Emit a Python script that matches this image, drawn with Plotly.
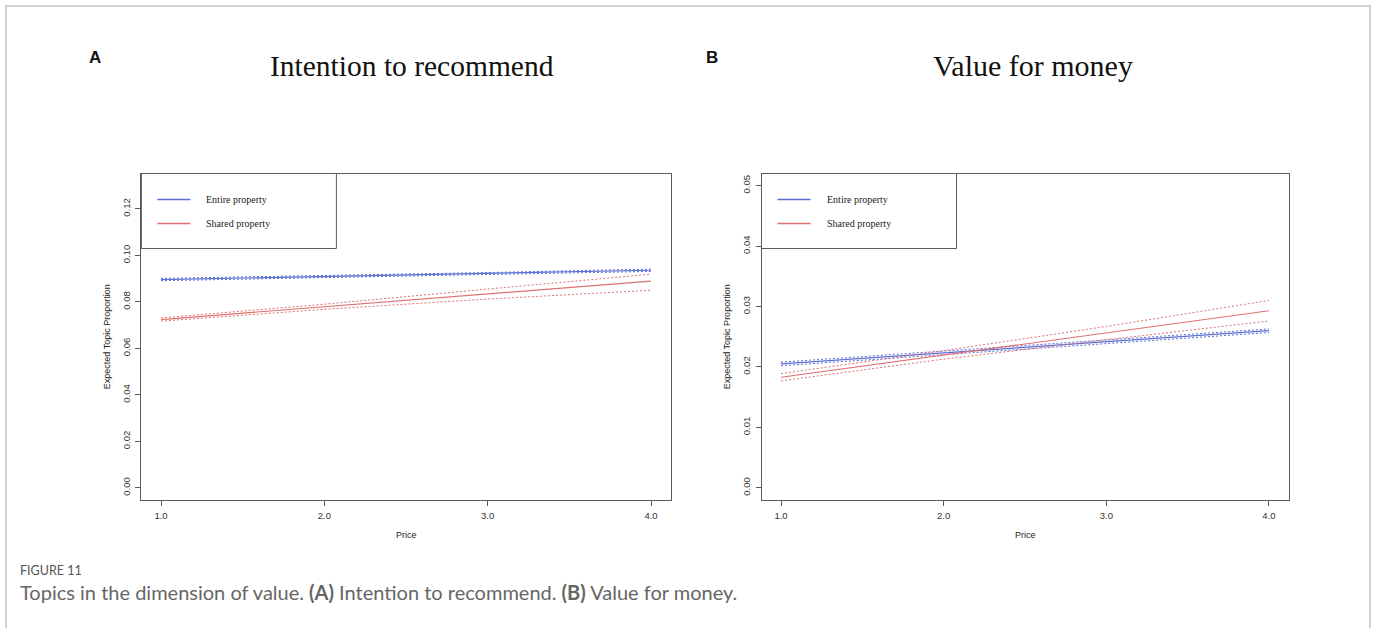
import plotly.graph_objects as go

W, H = 1377, 628

# Price levels on the x axis
price = [1.0, 2.0, 3.0, 4.0]

# Panel A: Intention to recommend (expected topic proportion, with 95% CI)
a_entire_mean = [0.0896, 0.0909, 0.0922, 0.0936]
a_entire_lo = [0.0891, 0.0905, 0.0918, 0.0931]
a_entire_hi = [0.0901, 0.0913, 0.0926, 0.0941]
a_shared_mean = [0.0724, 0.0779, 0.0834, 0.0889]
a_shared_lo = [0.0717, 0.0768, 0.0812, 0.0850]
a_shared_hi = [0.0731, 0.0790, 0.0855, 0.0919]

# Panel B: Value for money
b_entire_mean = [0.0205, 0.0223, 0.0241, 0.0260]
b_entire_lo = [0.0202, 0.0220, 0.0238, 0.0257]
b_entire_hi = [0.0208, 0.0226, 0.0244, 0.0263]
b_shared_mean = [0.0183, 0.0220, 0.0256, 0.0293]
b_shared_lo = [0.0177, 0.0213, 0.0245, 0.0276]
b_shared_hi = [0.0189, 0.0227, 0.0267, 0.0310]

x_ticks = [1.0, 2.0, 3.0, 4.0]
x_ticktext = ["1.0", "2.0", "3.0", "4.0"]
a_y_ticks = [0.00, 0.02, 0.04, 0.06, 0.08, 0.10, 0.12]
a_y_ticktext = ["0.00", "0.02", "0.04", "0.06", "0.08", "0.10", "0.12"]
b_y_ticks = [0.00, 0.01, 0.02, 0.03, 0.04, 0.05]
b_y_ticktext = ["0.00", "0.01", "0.02", "0.03", "0.04", "0.05"]

series_names = ["Entire property", "Shared property"]
BLUE = "rgb(92,111,210)"
RED = "rgb(224,112,112)"

SERIF = "Liberation Serif, Times New Roman, serif"
SANS = "Liberation Sans, Arial, sans-serif"
CAPTION_FONT = "Lato, Open Sans, sans-serif"


def px_x(x):
    return x / W


def px_y(y):
    return 1 - y / H


fig = go.Figure()


def add_panel(xa, ya, entire, shared):
    for (mean, lo, hi), col in ((entire, BLUE), (shared, RED)):
        for band in (lo, hi):
            fig.add_trace(go.Scatter(
                x=price, y=band, mode="lines", xaxis=xa, yaxis=ya,
                line=dict(color=col, width=1, dash="2px,2px"),
                showlegend=False, hoverinfo="skip"))
        fig.add_trace(go.Scatter(
            x=price, y=mean, mode="lines", xaxis=xa, yaxis=ya,
            line=dict(color=col, width=1.2), showlegend=False))


add_panel("x", "y", (a_entire_mean, a_entire_lo, a_entire_hi),
          (a_shared_mean, a_shared_lo, a_shared_hi))
add_panel("x2", "y2", (b_entire_mean, b_entire_lo, b_entire_hi),
          (b_shared_mean, b_shared_lo, b_shared_hi))

axis_common = dict(
    showline=True, mirror=True, linecolor="#5a5a5a", linewidth=1,
    ticks="outside", ticklen=5, tickcolor="#5a5a5a", tickwidth=1,
    showgrid=False, zeroline=False, ticklabelstandoff=2,
    tickfont=dict(family=SANS, size=9.5, color="#333333"),
)

# Panel box positions (pixels)
A_LEFT, A_RIGHT = 141.4, 670.6
B_LEFT, B_RIGHT = 761.5, 1288.5
TOP, BOTTOM = 173.5, 500.0

fig.update_layout(
    width=W, height=H,
    margin=dict(l=0, r=0, t=0, b=0),
    paper_bgcolor="white", plot_bgcolor="white",
    xaxis=dict(domain=[px_x(A_LEFT), px_x(A_RIGHT)], range=[0.88, 4.12],
               tickvals=x_ticks, ticktext=x_ticktext, anchor="y", **axis_common),
    yaxis=dict(domain=[px_y(BOTTOM), px_y(TOP)], range=[-0.0052, 0.1352],
               tickvals=a_y_ticks, ticktext=a_y_ticktext, tickangle=-90,
               anchor="x", **axis_common),
    xaxis2=dict(domain=[px_x(B_LEFT), px_x(B_RIGHT)], range=[0.88, 4.12],
                tickvals=x_ticks, ticktext=x_ticktext, anchor="y2", **axis_common),
    yaxis2=dict(domain=[px_y(BOTTOM), px_y(TOP)], range=[-0.002, 0.052],
                tickvals=b_y_ticks, ticktext=b_y_ticktext, tickangle=-90,
                anchor="x2", **axis_common),
)

shapes = []
annotations = []

# Outer figure frame (open at the bottom)
shapes.append(dict(
    type="path", xref="paper", yref="paper",
    path=f"M {px_x(6)},{px_y(628)} L {px_x(6)},{px_y(6)} L {px_x(1370)},{px_y(6)} L {px_x(1370)},{px_y(628)}",
    line=dict(color="#c4c4c4", width=1.5)))

for left, right, letter, lx, title, tx, tsize in (
        (A_LEFT, A_RIGHT, "A", 95, "Intention to recommend", 412, 29.5),
        (B_LEFT, B_RIGHT, "B", 712, "Value for money", 1033, 30)):
    cx = (left + right) / 2
    # Legend box in the top-left corner of the panel
    shapes.append(dict(type="rect", xref="paper", yref="paper",
                       x0=px_x(left), x1=px_x(left + 195), y0=px_y(248.5), y1=px_y(TOP),
                       line=dict(color="#5a5a5a", width=1), fillcolor="rgba(0,0,0,0)"))
    for name, col, yy in ((series_names[0], BLUE, 199.5), (series_names[1], RED, 223.5)):
        shapes.append(dict(type="line", xref="paper", yref="paper",
                           x0=px_x(left + 16), x1=px_x(left + 49), y0=px_y(yy), y1=px_y(yy),
                           line=dict(color=col, width=1.3)))
        annotations.append(dict(text=name, xref="paper", yref="paper",
                                x=px_x(left + 63), y=px_y(yy), xanchor="left", yanchor="middle",
                                showarrow=False, font=dict(family=SERIF, size=10, color="#222")))
    # Axis titles
    annotations.append(dict(text="Price", xref="paper", yref="paper",
                            x=px_x(cx), y=px_y(535), xanchor="center", yanchor="middle",
                            showarrow=False, font=dict(family=SANS, size=9, color="#222")))
    annotations.append(dict(text="Expected Topic Proportion", xref="paper", yref="paper",
                            x=px_x(left - 35), y=px_y((TOP + BOTTOM) / 2), textangle=-90,
                            xanchor="center", yanchor="middle",
                            showarrow=False, font=dict(family=SANS, size=9, color="#222")))
    # Panel title and letter
    annotations.append(dict(text=title, xref="paper", yref="paper",
                            x=px_x(tx), y=px_y(66), xanchor="center", yanchor="middle",
                            showarrow=False, font=dict(family=SERIF, size=tsize, color="#111")))
    annotations.append(dict(text=f"<b>{letter}</b>", xref="paper", yref="paper",
                            x=px_x(lx), y=px_y(57), xanchor="center", yanchor="middle",
                            showarrow=False, font=dict(family=SANS, size=17, color="#111")))

# Figure caption
annotations.append(dict(text="FIGURE 11", xref="paper", yref="paper",
                        x=px_x(18), y=px_y(570), xanchor="left", yanchor="middle",
                        showarrow=False, font=dict(family=CAPTION_FONT, size=12.5, color="#555")))
annotations.append(dict(
    text="Topics in the dimension of value. <b>(A)</b> Intention to recommend. <b>(B)</b> Value for money.",
    xref="paper", yref="paper", x=px_x(18), y=px_y(592), xanchor="left", yanchor="middle",
    showarrow=False, font=dict(family=CAPTION_FONT, size=20, color="#666")))

fig.update_layout(shapes=shapes, annotations=annotations)

fig.write_html("out.html")
